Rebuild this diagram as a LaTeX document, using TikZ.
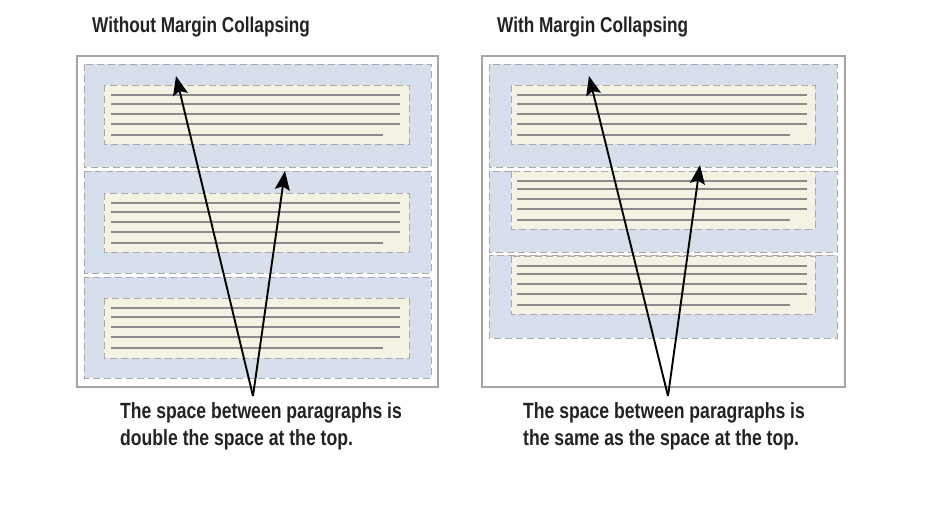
\documentclass[tikz,border=0pt]{standalone}
\usepackage{fontspec}
\setmainfont[FakeStretch=0.8]{Liberation Sans}
\usepackage{xcolor}
\definecolor{mcblue}{RGB}{215,223,236}
\definecolor{mcyellow}{RGB}{243,242,227}
\definecolor{mcdash}{RGB}{170,170,170}
\definecolor{mcline}{RGB}{140,140,140}
\definecolor{mcframe}{RGB}{165,165,165}
\definecolor{mctext}{RGB}{35,35,35}
\usetikzlibrary{arrows.meta}

\begin{document}
\begin{tikzpicture}[x=1pt, y=-1pt,
  frame/.style={draw=mcframe, line width=1.2pt},
  marginbox/.style={fill=mcblue, draw=mcdash, line width=0.9pt, dash pattern=on 7pt off 4pt},
  parabox/.style={fill=mcyellow, draw=mcdash, line width=0.9pt, dash pattern=on 7pt off 4pt},
  textline/.style={draw=mcline, line width=1.9pt},
  pointer/.style={black, line width=1.9pt, -{Stealth[length=19pt, width=15pt, inset=3.5pt]}},
  heading/.style={font=\fontsize{21.5}{24}\selectfont\bfseries, text=mctext, inner sep=0pt, anchor=west},
  caption/.style={font=\fontsize{22}{27}\selectfont\bfseries, text=mctext, inner sep=0pt, anchor=west, align=left}]
  \useasboundingbox[fill=white] (0,0) rectangle (930,506);

  % Left panel: without collapsing
  \node[heading] (lefttitle) at (92,27) {Without Margin Collapsing};
  \draw[frame] (77,56) rectangle (438,387);
  \draw[marginbox] (84,64) rectangle (431,167);
  \draw[marginbox] (84,171) rectangle (431,273);
  \draw[marginbox] (84,277) rectangle (431,378);
  \draw[parabox] (104,85) rectangle (409,144);
  \draw[parabox] (104,193) rectangle (409,252);
  \draw[parabox] (104,298) rectangle (409,358);
  \draw[textline] (111,95) -- (400,95) (111,104) -- (400,104) (111,114) -- (400,114)
                  (111,124) -- (400,124) (111,135) -- (383,135);
  \draw[textline] (111,203) -- (400,203) (111,212) -- (400,212) (111,222) -- (400,222)
                  (111,232) -- (400,232) (111,243) -- (383,243);
  \draw[textline] (111,308) -- (400,308) (111,317) -- (400,317) (111,327) -- (400,327)
                  (111,337) -- (400,337) (111,348) -- (383,348);
  \coordinate (leftapex) at (253,396);
  \coordinate (lefttop) at (176,76);
  \coordinate (leftgap) at (285,171);
  \draw[pointer] (leftapex) -- (lefttop);
  \draw[pointer] (leftapex) -- (leftgap);
  \node[caption] (leftcaption) at (120,426)
       {The space between paragraphs is\\double the space at the top.};

  % Right panel: with collapsing
  \node[heading] (righttitle) at (497,27) {With Margin Collapsing};
  \draw[frame] (482,56) rectangle (845,387);
  \draw[marginbox] (489,64) rectangle (837,167);
  \draw[marginbox] (489,171) rectangle (837,252);
  \draw[marginbox] (489,255) rectangle (837,338);
  \draw[parabox] (511,85) rectangle (815,144);
  \draw[parabox] (511,171) rectangle (815,229);
  \draw[parabox] (511,256) rectangle (815,314);
  \draw[textline] (517,95) -- (807,95) (517,104) -- (807,104) (517,114) -- (807,114)
                  (517,124) -- (807,124) (517,135) -- (790,135);
  \draw[textline] (517,181) -- (807,181) (517,189) -- (807,189) (517,199) -- (807,199)
                  (517,209) -- (807,209) (517,220) -- (790,220);
  \draw[textline] (517,266) -- (807,266) (517,274) -- (807,274) (517,284) -- (807,284)
                  (517,294) -- (807,294) (517,305) -- (790,305);
  \coordinate (rightapex) at (668,396);
  \coordinate (righttop) at (589,76);
  \coordinate (rightgap) at (700,165);
  \draw[pointer] (rightapex) -- (righttop);
  \draw[pointer] (rightapex) -- (rightgap);
  \node[caption] (rightcaption) at (523,426)
       {The space between paragraphs is\\the same as the space at the top.};
\end{tikzpicture}
\end{document}
